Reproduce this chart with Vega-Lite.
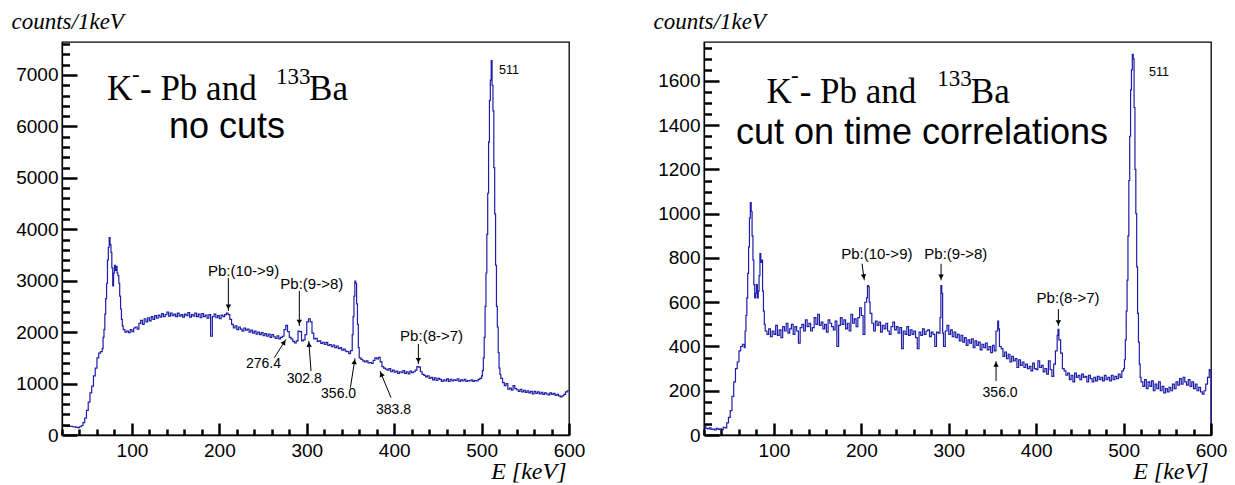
{
  "$schema": "https://vega.github.io/schema/vega-lite/v6.json",
  "background": "white",
  "padding": {"left": 10, "top": 9, "right": 5, "bottom": 5},
  "spacing": 135,
  "bounds": "flush",
  "config": {
    "view": {"stroke": "black", "strokeWidth": 1.3},
    "axis": {
      "grid": false,
      "labelFont": "Liberation Sans",
      "labelFontSize": 19,
      "labelColor": "black",
      "domainColor": "black",
      "domainWidth": 1.3,
      "titleFont": "Liberation Serif",
      "titleFontStyle": "italic",
      "titleFontWeight": "normal",
      "titleFontSize": 23,
      "titleColor": "black"
    }
  },
  "datasets": {
    "left": [
      {"E":20,"c":190},{"E":22,"c":175},{"E":24,"c":170},{"E":26,"c":172},{"E":28,"c":165},{"E":30,"c":168},{"E":32,"c":160},{"E":34,"c":158},{"E":36,"c":150},{"E":38,"c":145},
      {"E":40,"c":160},{"E":42,"c":185},{"E":44,"c":240},{"E":46,"c":330},{"E":48,"c":480},{"E":50,"c":640},{"E":52,"c":820},{"E":54,"c":950},{"E":56,"c":1150},{"E":58,"c":1300},
      {"E":60,"c":1500},{"E":62,"c":1590},{"E":64,"c":1620},{"E":66,"c":1680},{"E":67,"c":1900},{"E":68,"c":2050},{"E":69,"c":2350},{"E":70,"c":2650},{"E":71,"c":2950},{"E":72,"c":3400},
      {"E":73,"c":3650},{"E":74,"c":3840},{"E":75,"c":3700},{"E":76,"c":3550},{"E":77,"c":3250},{"E":78,"c":2900},{"E":79,"c":3150},{"E":80,"c":3300},{"E":81,"c":3200},{"E":82,"c":3280},
      {"E":83,"c":3150},{"E":84,"c":3100},{"E":85,"c":2950},{"E":86,"c":2700},{"E":87,"c":2450},{"E":88,"c":2250},{"E":89,"c":2120},{"E":90,"c":2050},{"E":92,"c":2000},{"E":94,"c":2020},
      {"E":96,"c":1990},{"E":98,"c":2050},{"E":100,"c":2010},{"E":102,"c":2080},{"E":104,"c":2100},{"E":106,"c":2060},{"E":108,"c":2170},{"E":110,"c":2230},{"E":112,"c":2150},{"E":114,"c":2260},
      {"E":116,"c":2200},{"E":118,"c":2280},{"E":120,"c":2220},{"E":122,"c":2300},{"E":124,"c":2250},{"E":126,"c":2320},{"E":128,"c":2270},{"E":130,"c":2330},{"E":132,"c":2290},{"E":134,"c":2360},
      {"E":136,"c":2300},{"E":138,"c":2340},{"E":140,"c":2390},{"E":142,"c":2310},{"E":144,"c":2370},{"E":146,"c":2320},{"E":148,"c":2350},{"E":150,"c":2300},{"E":152,"c":2370},{"E":154,"c":2310},
      {"E":156,"c":2340},{"E":158,"c":2290},{"E":160,"c":2350},{"E":162,"c":2320},{"E":164,"c":2380},{"E":166,"c":2290},{"E":168,"c":2340},{"E":170,"c":2310},{"E":172,"c":2370},{"E":174,"c":2300},
      {"E":176,"c":2350},{"E":178,"c":2280},{"E":180,"c":2360},{"E":182,"c":2300},{"E":184,"c":2330},{"E":186,"c":2270},{"E":188,"c":2340},{"E":190,"c":1920},{"E":192,"c":2300},{"E":194,"c":2350},
      {"E":196,"c":2280},{"E":198,"c":2320},{"E":200,"c":2260},{"E":202,"c":2330},{"E":204,"c":2300},{"E":206,"c":2340},{"E":208,"c":2370},{"E":210,"c":2340},{"E":212,"c":2250},{"E":214,"c":2150},
      {"E":216,"c":2080},{"E":218,"c":2120},{"E":220,"c":2050},{"E":222,"c":2100},{"E":224,"c":2060},{"E":226,"c":2020},{"E":228,"c":2080},{"E":230,"c":2040},{"E":232,"c":2060},{"E":234,"c":2000},
      {"E":236,"c":2040},{"E":238,"c":1980},{"E":240,"c":2020},{"E":242,"c":1960},{"E":244,"c":2000},{"E":246,"c":1950},{"E":248,"c":1990},{"E":250,"c":1930},{"E":252,"c":1970},{"E":254,"c":1920},
      {"E":256,"c":1960},{"E":258,"c":1900},{"E":260,"c":1950},{"E":262,"c":1910},{"E":264,"c":1880},{"E":266,"c":1930},{"E":268,"c":1870},{"E":270,"c":1900},{"E":272,"c":1920},{"E":274,"c":2050},
      {"E":276,"c":2130},{"E":278,"c":2010},{"E":280,"c":1900},{"E":282,"c":1870},{"E":284,"c":1820},{"E":286,"c":1790},{"E":288,"c":1830},{"E":290,"c":2020},{"E":292,"c":2010},{"E":294,"c":1830},
      {"E":296,"c":1850},{"E":298,"c":1950},{"E":300,"c":2200},{"E":302,"c":2260},{"E":304,"c":2200},{"E":306,"c":1980},{"E":308,"c":1870},{"E":310,"c":1880},{"E":312,"c":1820},{"E":314,"c":1830},
      {"E":316,"c":1780},{"E":318,"c":1800},{"E":320,"c":1760},{"E":322,"c":1800},{"E":324,"c":1740},{"E":326,"c":1760},{"E":328,"c":1720},{"E":330,"c":1750},{"E":332,"c":1700},{"E":334,"c":1730},
      {"E":336,"c":1680},{"E":338,"c":1700},{"E":340,"c":1650},{"E":342,"c":1670},{"E":344,"c":1630},{"E":346,"c":1620},{"E":348,"c":1580},{"E":350,"c":1640},{"E":352,"c":1950},{"E":353,"c":2300},
      {"E":354,"c":2700},{"E":355,"c":2990},{"E":356,"c":2950},{"E":357,"c":2550},{"E":358,"c":2150},{"E":359,"c":1700},{"E":360,"c":1500},{"E":362,"c":1470},{"E":364,"c":1440},{"E":366,"c":1420},
      {"E":368,"c":1440},{"E":370,"c":1400},{"E":372,"c":1410},{"E":374,"c":1390},{"E":376,"c":1450},{"E":378,"c":1500},{"E":380,"c":1480},{"E":382,"c":1510},{"E":384,"c":1420},{"E":386,"c":1330},
      {"E":388,"c":1300},{"E":390,"c":1280},{"E":392,"c":1260},{"E":394,"c":1290},{"E":396,"c":1230},{"E":398,"c":1260},{"E":400,"c":1220},{"E":402,"c":1240},{"E":404,"c":1200},{"E":406,"c":1230},
      {"E":408,"c":1210},{"E":410,"c":1250},{"E":412,"c":1200},{"E":414,"c":1230},{"E":416,"c":1190},{"E":418,"c":1240},{"E":420,"c":1210},{"E":422,"c":1230},{"E":424,"c":1260},{"E":426,"c":1330},
      {"E":428,"c":1320},{"E":430,"c":1230},{"E":432,"c":1180},{"E":434,"c":1160},{"E":436,"c":1130},{"E":438,"c":1150},{"E":440,"c":1100},{"E":442,"c":1120},{"E":444,"c":1070},{"E":446,"c":1110},
      {"E":448,"c":1060},{"E":450,"c":1100},{"E":452,"c":1080},{"E":454,"c":1040},{"E":456,"c":1070},{"E":458,"c":1050},{"E":460,"c":1090},{"E":462,"c":1040},{"E":464,"c":1080},{"E":466,"c":1050},
      {"E":468,"c":1070},{"E":470,"c":1060},{"E":472,"c":1090},{"E":474,"c":1040},{"E":476,"c":1070},{"E":478,"c":1050},{"E":480,"c":1080},{"E":482,"c":1040},{"E":484,"c":1060},{"E":486,"c":1050},
      {"E":488,"c":1070},{"E":490,"c":1040},{"E":492,"c":1060},{"E":494,"c":1050},{"E":496,"c":1080},{"E":498,"c":1100},{"E":500,"c":1150},{"E":501,"c":1250},{"E":502,"c":1500},{"E":503,"c":1900},
      {"E":504,"c":2500},{"E":505,"c":3150},{"E":506,"c":3900},{"E":507,"c":4700},{"E":508,"c":5700},{"E":509,"c":6500},{"E":510,"c":6900},{"E":511,"c":7280},{"E":512,"c":6800},{"E":513,"c":6300},
      {"E":514,"c":5200},{"E":515,"c":4300},{"E":516,"c":3300},{"E":517,"c":2500},{"E":518,"c":2100},{"E":519,"c":1600},{"E":520,"c":1300},{"E":521,"c":1180},{"E":522,"c":1100},{"E":524,"c":1020},
      {"E":526,"c":960},{"E":528,"c":1000},{"E":530,"c":890},{"E":532,"c":910},{"E":534,"c":870},{"E":536,"c":960},{"E":538,"c":900},{"E":540,"c":880},{"E":542,"c":850},{"E":544,"c":890},
      {"E":546,"c":840},{"E":548,"c":870},{"E":550,"c":830},{"E":552,"c":860},{"E":554,"c":820},{"E":556,"c":850},{"E":558,"c":800},{"E":560,"c":850},{"E":562,"c":810},{"E":564,"c":840},
      {"E":566,"c":800},{"E":568,"c":830},{"E":570,"c":790},{"E":572,"c":820},{"E":574,"c":800},{"E":576,"c":780},{"E":578,"c":820},{"E":580,"c":790},{"E":582,"c":810},{"E":584,"c":770},
      {"E":586,"c":790},{"E":588,"c":760},{"E":590,"c":740},{"E":592,"c":760},{"E":594,"c":790},{"E":596,"c":840},{"E":598,"c":860},{"E":600,"c":860}
    ],
    "right": [
      {"E":20,"c":38},{"E":22,"c":30},{"E":24,"c":28},{"E":26,"c":32},{"E":28,"c":25},{"E":30,"c":27},{"E":32,"c":23},{"E":34,"c":30},{"E":36,"c":25},{"E":38,"c":28},
      {"E":40,"c":24},{"E":42,"c":35},{"E":44,"c":32},{"E":46,"c":55},{"E":48,"c":80},{"E":50,"c":110},{"E":52,"c":175},{"E":54,"c":240},{"E":56,"c":300},{"E":58,"c":330},
      {"E":60,"c":380},{"E":62,"c":400},{"E":64,"c":410},{"E":66,"c":395},{"E":67,"c":470},{"E":68,"c":540},{"E":69,"c":620},{"E":70,"c":730},{"E":71,"c":850},{"E":72,"c":980},
      {"E":73,"c":1050},{"E":74,"c":1010},{"E":75,"c":900},{"E":76,"c":790},{"E":77,"c":680},{"E":78,"c":620},{"E":79,"c":640},{"E":80,"c":680},{"E":81,"c":620},{"E":82,"c":650},
      {"E":83,"c":720},{"E":84,"c":820},{"E":85,"c":780},{"E":86,"c":790},{"E":87,"c":650},{"E":88,"c":560},{"E":89,"c":500},{"E":90,"c":470},{"E":92,"c":455},{"E":94,"c":480},
      {"E":96,"c":445},{"E":98,"c":470},{"E":100,"c":455},{"E":102,"c":495},{"E":104,"c":450},{"E":106,"c":475},{"E":108,"c":440},{"E":110,"c":490},{"E":112,"c":470},{"E":114,"c":505},
      {"E":116,"c":460},{"E":118,"c":480},{"E":120,"c":500},{"E":122,"c":455},{"E":124,"c":490},{"E":126,"c":470},{"E":128,"c":415},{"E":130,"c":485},{"E":132,"c":500},{"E":134,"c":470},
      {"E":136,"c":520},{"E":138,"c":490},{"E":140,"c":505},{"E":142,"c":470},{"E":144,"c":485},{"E":146,"c":530},{"E":148,"c":500},{"E":150,"c":545},{"E":152,"c":495},{"E":154,"c":510},
      {"E":156,"c":480},{"E":158,"c":500},{"E":160,"c":465},{"E":162,"c":520},{"E":164,"c":505},{"E":166,"c":490},{"E":168,"c":475},{"E":170,"c":515},{"E":172,"c":400},{"E":174,"c":495},
      {"E":176,"c":530},{"E":178,"c":500},{"E":180,"c":520},{"E":182,"c":480},{"E":184,"c":505},{"E":186,"c":470},{"E":188,"c":545},{"E":190,"c":505},{"E":192,"c":525},{"E":194,"c":490},
      {"E":196,"c":530},{"E":198,"c":575},{"E":200,"c":540},{"E":202,"c":455},{"E":204,"c":600},{"E":206,"c":620},{"E":207,"c":675},{"E":208,"c":670},{"E":209,"c":600},{"E":210,"c":550},
      {"E":212,"c":505},{"E":214,"c":470},{"E":216,"c":515},{"E":218,"c":495},{"E":220,"c":510},{"E":222,"c":465},{"E":224,"c":495},{"E":226,"c":480},{"E":228,"c":505},{"E":230,"c":470},
      {"E":232,"c":455},{"E":234,"c":490},{"E":236,"c":510},{"E":238,"c":475},{"E":240,"c":490},{"E":242,"c":460},{"E":244,"c":485},{"E":246,"c":390},{"E":248,"c":470},{"E":250,"c":455},
      {"E":252,"c":490},{"E":254,"c":450},{"E":256,"c":475},{"E":258,"c":455},{"E":260,"c":470},{"E":262,"c":440},{"E":264,"c":390},{"E":266,"c":465},{"E":268,"c":450},{"E":270,"c":480},
      {"E":272,"c":455},{"E":274,"c":470},{"E":276,"c":475},{"E":278,"c":445},{"E":280,"c":465},{"E":282,"c":455},{"E":284,"c":400},{"E":286,"c":465},{"E":288,"c":460},{"E":290,"c":530},
      {"E":291,"c":675},{"E":292,"c":640},{"E":293,"c":460},{"E":294,"c":400},{"E":296,"c":470},{"E":298,"c":495},{"E":300,"c":455},{"E":302,"c":475},{"E":304,"c":445},{"E":306,"c":465},
      {"E":308,"c":440},{"E":310,"c":455},{"E":312,"c":425},{"E":314,"c":450},{"E":316,"c":420},{"E":318,"c":440},{"E":320,"c":405},{"E":322,"c":430},{"E":324,"c":415},{"E":326,"c":435},
      {"E":328,"c":395},{"E":330,"c":425},{"E":332,"c":405},{"E":334,"c":420},{"E":336,"c":385},{"E":338,"c":410},{"E":340,"c":395},{"E":342,"c":415},{"E":344,"c":385},{"E":346,"c":400},
      {"E":348,"c":372},{"E":350,"c":405},{"E":352,"c":380},{"E":354,"c":470},{"E":356,"c":515},{"E":357,"c":480},{"E":358,"c":400},{"E":360,"c":390},{"E":362,"c":355},{"E":364,"c":375},
      {"E":366,"c":345},{"E":368,"c":365},{"E":370,"c":330},{"E":372,"c":355},{"E":374,"c":335},{"E":376,"c":345},{"E":378,"c":305},{"E":380,"c":340},{"E":382,"c":315},{"E":384,"c":330},
      {"E":386,"c":305},{"E":388,"c":320},{"E":390,"c":300},{"E":392,"c":310},{"E":394,"c":290},{"E":396,"c":325},{"E":398,"c":300},{"E":400,"c":295},{"E":402,"c":335},{"E":404,"c":305},
      {"E":406,"c":315},{"E":408,"c":285},{"E":410,"c":300},{"E":412,"c":275},{"E":414,"c":335},{"E":416,"c":295},{"E":418,"c":265},{"E":420,"c":320},{"E":422,"c":380},{"E":424,"c":450},
      {"E":425,"c":478},{"E":426,"c":430},{"E":428,"c":370},{"E":430,"c":300},{"E":432,"c":290},{"E":434,"c":270},{"E":436,"c":280},{"E":438,"c":250},{"E":440,"c":270},{"E":442,"c":240},
      {"E":444,"c":280},{"E":446,"c":260},{"E":448,"c":270},{"E":450,"c":250},{"E":452,"c":275},{"E":454,"c":260},{"E":456,"c":265},{"E":458,"c":240},{"E":460,"c":270},{"E":462,"c":255},
      {"E":464,"c":240},{"E":466,"c":260},{"E":468,"c":245},{"E":470,"c":265},{"E":472,"c":250},{"E":474,"c":260},{"E":476,"c":245},{"E":478,"c":270},{"E":480,"c":250},{"E":482,"c":260},
      {"E":484,"c":245},{"E":486,"c":270},{"E":488,"c":250},{"E":490,"c":265},{"E":492,"c":255},{"E":494,"c":275},{"E":496,"c":260},{"E":498,"c":290},{"E":500,"c":300},{"E":501,"c":340},
      {"E":502,"c":430},{"E":503,"c":560},{"E":504,"c":700},{"E":505,"c":900},{"E":506,"c":1150},{"E":507,"c":1350},{"E":508,"c":1560},{"E":509,"c":1650},{"E":510,"c":1720},{"E":511,"c":1700},
      {"E":512,"c":1480},{"E":513,"c":1200},{"E":514,"c":1000},{"E":515,"c":760},{"E":516,"c":550},{"E":517,"c":420},{"E":518,"c":320},{"E":519,"c":260},{"E":520,"c":240},{"E":522,"c":220},
      {"E":524,"c":250},{"E":526,"c":210},{"E":528,"c":240},{"E":530,"c":220},{"E":532,"c":245},{"E":534,"c":200},{"E":536,"c":230},{"E":538,"c":210},{"E":540,"c":240},{"E":542,"c":200},
      {"E":544,"c":220},{"E":546,"c":190},{"E":548,"c":210},{"E":550,"c":195},{"E":552,"c":215},{"E":554,"c":200},{"E":556,"c":230},{"E":558,"c":210},{"E":560,"c":240},{"E":562,"c":225},
      {"E":564,"c":255},{"E":566,"c":230},{"E":568,"c":260},{"E":570,"c":240},{"E":572,"c":225},{"E":574,"c":250},{"E":576,"c":220},{"E":578,"c":240},{"E":580,"c":210},{"E":582,"c":230},
      {"E":584,"c":200},{"E":586,"c":215},{"E":588,"c":195},{"E":590,"c":185},{"E":592,"c":200},{"E":594,"c":230},{"E":596,"c":260},{"E":598,"c":295},{"E":599,"c":290},{"E":600,"c":0}
    ],
    "leftArrows": [
      {"x":210.3,"y":3053,"x2":210.3,"y2":2411,"hx":210.3,"hy":2489,"a":180},
      {"x":291.5,"y":2800,"x2":291.5,"y2":2119,"hx":291.5,"hy":2197,"a":180},
      {"x":262.9,"y":1503,"x2":276.3,"y2":1861,"hx":274.1,"hy":1802,"a":32.5},
      {"x":304.9,"y":1244,"x2":302.3,"y2":1828,"hx":302.6,"hy":1760,"a":-4.4},
      {"x":349.9,"y":920,"x2":355.2,"y2":1491,"hx":354.6,"hy":1423,"a":9.1},
      {"x":396.4,"y":725,"x2":383.8,"y2":1244,"hx":385.3,"hy":1182,"a":-22.4},
      {"x":427.7,"y":1769,"x2":427.7,"y2":1380,"hx":427.7,"hy":1449,"a":180}
    ],
    "rightArrows": [
      {"x":200.8,"y":774,"x2":203.4,"y2":699,"hx":202.8,"hy":715,"a":172},
      {"x":291.2,"y":774,"x2":291.2,"y2":699,"hx":291.2,"hy":715,"a":180},
      {"x":354.1,"y":244,"x2":354.1,"y2":334,"hx":354.1,"hy":319,"a":0},
      {"x":425.4,"y":568,"x2":425.4,"y2":493,"hx":425.4,"hy":508,"a":180}
    ]
  },
  "hconcat": [
    {
      "width": 507,
      "height": 393,
      "resolve": {"axis": {"x": "independent", "y": "independent"}},
      "layer": [
        {
          "data": {"name": "left"},
          "mark": {"type": "line", "interpolate": "step-after", "color": "#1e1eaa", "strokeWidth": 1.2},
          "encoding": {
            "x": {"field": "E", "type": "quantitative", "scale": {"domain": [20, 600], "nice": false, "zero": false},
              "axis": {"orient": "bottom", "values": [100, 200, 300, 400, 500, 600], "ticks": false, "labelPadding": 6, "labelFlush": false, "title": "E [keV]", "titleX": 504, "titleY": 43, "titleAlign": "right", "titleBaseline": "alphabetic", "titleFontSize": 24}},
            "y": {"field": "c", "type": "quantitative", "scale": {"domain": [0, 7641], "nice": false},
              "axis": {"orient": "left", "values": [0, 1000, 2000, 3000, 4000, 5000, 6000, 7000], "format": "d", "ticks": false, "labelPadding": 4, "title": "counts/1keV", "titleFontSize": 23, "titleAngle": 0, "titleX": -51, "titleY": -14, "titleAlign": "left", "titleBaseline": "alphabetic"}}
          }
        },
        {
          "data": {"name": "leftArrows"},
          "mark": {"type": "rule", "color": "black", "strokeWidth": 1},
          "encoding": {
            "x": {"field": "x", "type": "quantitative",
              "axis": {"orient": "top", "offset": -393, "zindex": 1, "values": [100, 200, 300, 400, 500, 600], "tickSize": 12, "tickWidth": 2.5, "tickColor": "black", "labels": false, "domain": false, "title": null}},
            "y": {"field": "y", "type": "quantitative",
              "axis": {"orient": "right", "offset": -507, "zindex": 1, "values": [0, 1000, 2000, 3000, 4000, 5000, 6000, 7000], "tickSize": 15, "tickWidth": 2.5, "tickColor": "black", "labels": false, "domain": false, "title": null}},
            "x2": {"field": "x2"},
            "y2": {"field": "y2"}
          }
        },
        {
          "data": {"name": "leftArrows"},
          "mark": {"type": "point", "shape": "triangle-up", "filled": true, "color": "black", "size": 30, "opacity": 1},
          "encoding": {
            "x": {"field": "hx", "type": "quantitative",
              "axis": {"orient": "top", "offset": -393, "zindex": 1, "values": [20,40,60,80,120,140,160,180,220,240,260,280,320,340,360,380,420,440,460,480,520,540,560,580], "tickSize": 6, "tickWidth": 2.5, "tickColor": "black", "labels": false, "domain": false, "title": null}},
            "y": {"field": "hy", "type": "quantitative",
              "axis": {"orient": "right", "offset": -507, "zindex": 1, "values": [200,400,600,800,1200,1400,1600,1800,2200,2400,2600,2800,3200,3400,3600,3800,4200,4400,4600,4800,5200,5400,5600,5800,6200,6400,6600,6800,7200,7400,7600], "tickSize": 7.5, "tickWidth": 2.5, "tickColor": "black", "labels": false, "domain": false, "title": null}},
            "angle": {"field": "a", "type": "quantitative", "scale": null}
          }
        },
        {
          "data": {"values": [
            {"x": 227.7, "y": 3189, "t": "Pb:(10->9)"},
            {"x": 305.8, "y": 2930, "t": "Pb:(9->8)"},
            {"x": 442.8, "y": 1925, "t": "Pb:(8->7)"}
          ]},
          "mark": {"type": "text", "font": "Liberation Sans", "color": "black", "fontSize": 15, "align": "center", "baseline": "middle"},
          "encoding": {
            "x": {"field": "x", "type": "quantitative", "axis": null},
            "y": {"field": "y", "type": "quantitative", "axis": null},
            "text": {"field": "t"}
          }
        },
        {
          "data": {"values": [
            {"x": 250.5, "y": 1375, "t": "276.4"},
            {"x": 297.2, "y": 1083, "t": "302.8"},
            {"x": 336.4, "y": 803, "t": "356.0"},
            {"x": 399.3, "y": 480, "t": "383.8"}
          ]},
          "mark": {"type": "text", "font": "Liberation Sans", "color": "black", "fontSize": 14, "align": "center", "baseline": "middle"},
          "encoding": {
            "x": {"field": "x", "type": "quantitative", "axis": null},
            "y": {"field": "y", "type": "quantitative", "axis": null},
            "text": {"field": "t"}
          }
        },
        {
          "data": {"values": [{"x": 520, "y": 7091, "t": "511"}]},
          "mark": {"type": "text", "font": "Liberation Sans", "color": "black", "fontSize": 12.5, "align": "left", "baseline": "middle"},
          "encoding": {
            "x": {"field": "x", "type": "quantitative", "axis": null},
            "y": {"field": "y", "type": "quantitative", "axis": null},
            "text": {"field": "t"}
          }
        },
        {
          "data": {"values": [
            {"x": 71.5, "y": 6514, "t": "K"},
            {"x": 109.2, "y": 6514, "t": "- Pb and"},
            {"x": 302.6, "y": 6514, "t": "Ba"}
          ]},
          "mark": {"type": "text", "font": "Liberation Serif", "color": "black", "fontSize": 35, "align": "left", "baseline": "alphabetic"},
          "encoding": {
            "x": {"field": "x", "type": "quantitative", "axis": null},
            "y": {"field": "y", "type": "quantitative", "axis": null},
            "text": {"field": "t"}
          }
        },
        {
          "data": {"values": [
            {"x": 100.1, "y": 6873, "t": "-"},
            {"x": 264.9, "y": 6825, "t": "133"}
          ]},
          "mark": {"type": "text", "font": "Liberation Serif", "color": "black", "fontSize": 23, "align": "left", "baseline": "alphabetic"},
          "encoding": {
            "x": {"field": "x", "type": "quantitative", "axis": null},
            "y": {"field": "y", "type": "quantitative", "axis": null},
            "text": {"field": "t"}
          }
        },
        {
          "data": {"values": [{"x": 208.8, "y": 5775, "t": "no cuts"}]},
          "mark": {"type": "text", "font": "Liberation Sans", "color": "black", "fontSize": 36, "align": "center", "baseline": "alphabetic"},
          "encoding": {
            "x": {"field": "x", "type": "quantitative", "axis": null},
            "y": {"field": "y", "type": "quantitative", "axis": null},
            "text": {"field": "t"}
          }
        }
      ]
    },
    {
      "width": 507,
      "height": 393,
      "resolve": {"axis": {"x": "independent", "y": "independent"}},
      "layer": [
        {
          "data": {"name": "right"},
          "mark": {"type": "line", "interpolate": "step-after", "color": "#1e1eaa", "strokeWidth": 1.2},
          "encoding": {
            "x": {"field": "E", "type": "quantitative", "scale": {"domain": [20, 600], "nice": false, "zero": false},
              "axis": {"orient": "bottom", "values": [100, 200, 300, 400, 500, 600], "ticks": false, "labelPadding": 6, "labelFlush": false, "title": "E [keV]", "titleX": 504, "titleY": 43, "titleAlign": "right", "titleBaseline": "alphabetic", "titleFontSize": 24}},
            "y": {"field": "c", "type": "quantitative", "scale": {"domain": [0, 1776], "nice": false},
              "axis": {"orient": "left", "values": [0, 200, 400, 600, 800, 1000, 1200, 1400, 1600], "format": "d", "ticks": false, "labelPadding": 4, "title": "counts/1keV", "titleFontSize": 23, "titleAngle": 0, "titleX": -51, "titleY": -14, "titleAlign": "left", "titleBaseline": "alphabetic"}}
          }
        },
        {
          "data": {"name": "rightArrows"},
          "mark": {"type": "rule", "color": "black", "strokeWidth": 1},
          "encoding": {
            "x": {"field": "x", "type": "quantitative",
              "axis": {"orient": "top", "offset": -393, "zindex": 1, "values": [100, 200, 300, 400, 500, 600], "tickSize": 12, "tickWidth": 2.5, "tickColor": "black", "labels": false, "domain": false, "title": null}},
            "y": {"field": "y", "type": "quantitative",
              "axis": {"orient": "right", "offset": -507, "zindex": 1, "values": [0, 200, 400, 600, 800, 1000, 1200, 1400, 1600], "tickSize": 15, "tickWidth": 2.5, "tickColor": "black", "labels": false, "domain": false, "title": null}},
            "x2": {"field": "x2"},
            "y2": {"field": "y2"}
          }
        },
        {
          "data": {"name": "rightArrows"},
          "mark": {"type": "point", "shape": "triangle-up", "filled": true, "color": "black", "size": 30, "opacity": 1},
          "encoding": {
            "x": {"field": "hx", "type": "quantitative",
              "axis": {"orient": "top", "offset": -393, "zindex": 1, "values": [20,40,60,80,120,140,160,180,220,240,260,280,320,340,360,380,420,440,460,480,520,540,560,580], "tickSize": 6, "tickWidth": 2.5, "tickColor": "black", "labels": false, "domain": false, "title": null}},
            "y": {"field": "hy", "type": "quantitative",
              "axis": {"orient": "right", "offset": -507, "zindex": 1, "values": [50,100,150,250,300,350,450,500,550,650,700,750,850,900,950,1050,1100,1150,1250,1300,1350,1450,1500,1550,1650,1700,1750], "tickSize": 7.5, "tickWidth": 2.5, "tickColor": "black", "labels": false, "domain": false, "title": null}},
            "angle": {"field": "a", "type": "quantitative", "scale": null}
          }
        },
        {
          "data": {"values": [
            {"x": 217.7, "y": 819, "t": "Pb:(10->9)"},
            {"x": 308.0, "y": 819, "t": "Pb:(9->8)"},
            {"x": 436.5, "y": 618, "t": "Pb:(8->7)"}
          ]},
          "mark": {"type": "text", "font": "Liberation Sans", "color": "black", "fontSize": 15, "align": "center", "baseline": "middle"},
          "encoding": {
            "x": {"field": "x", "type": "quantitative", "axis": null},
            "y": {"field": "y", "type": "quantitative", "axis": null},
            "text": {"field": "t"}
          }
        },
        {
          "data": {"values": [{"x": 358.7, "y": 191, "t": "356.0"}]},
          "mark": {"type": "text", "font": "Liberation Sans", "color": "black", "fontSize": 14, "align": "center", "baseline": "middle"},
          "encoding": {
            "x": {"field": "x", "type": "quantitative", "axis": null},
            "y": {"field": "y", "type": "quantitative", "axis": null},
            "text": {"field": "t"}
          }
        },
        {
          "data": {"values": [{"x": 529.2, "y": 1641, "t": "511"}]},
          "mark": {"type": "text", "font": "Liberation Sans", "color": "black", "fontSize": 12.5, "align": "left", "baseline": "middle"},
          "encoding": {
            "x": {"field": "x", "type": "quantitative", "axis": null},
            "y": {"field": "y", "type": "quantitative", "axis": null},
            "text": {"field": "t"}
          }
        },
        {
          "data": {"values": [
            {"x": 91.5, "y": 1502, "t": "K"},
            {"x": 129.5, "y": 1502, "t": "- Pb and"},
            {"x": 325.3, "y": 1502, "t": "Ba"}
          ]},
          "mark": {"type": "text", "font": "Liberation Serif", "color": "black", "fontSize": 35, "align": "left", "baseline": "alphabetic"},
          "encoding": {
            "x": {"field": "x", "type": "quantitative", "axis": null},
            "y": {"field": "y", "type": "quantitative", "axis": null},
            "text": {"field": "t"}
          }
        },
        {
          "data": {"values": [
            {"x": 119.5, "y": 1591, "t": "-"},
            {"x": 286.8, "y": 1577, "t": "133"}
          ]},
          "mark": {"type": "text", "font": "Liberation Serif", "color": "black", "fontSize": 23, "align": "left", "baseline": "alphabetic"},
          "encoding": {
            "x": {"field": "x", "type": "quantitative", "axis": null},
            "y": {"field": "y", "type": "quantitative", "axis": null},
            "text": {"field": "t"}
          }
        },
        {
          "data": {"values": [{"x": 269.4, "y": 1314, "t": "cut on time correlations"}]},
          "mark": {"type": "text", "font": "Liberation Sans", "color": "black", "fontSize": 36, "align": "center", "baseline": "alphabetic"},
          "encoding": {
            "x": {"field": "x", "type": "quantitative", "axis": null},
            "y": {"field": "y", "type": "quantitative", "axis": null},
            "text": {"field": "t"}
          }
        }
      ]
    }
  ]
}
